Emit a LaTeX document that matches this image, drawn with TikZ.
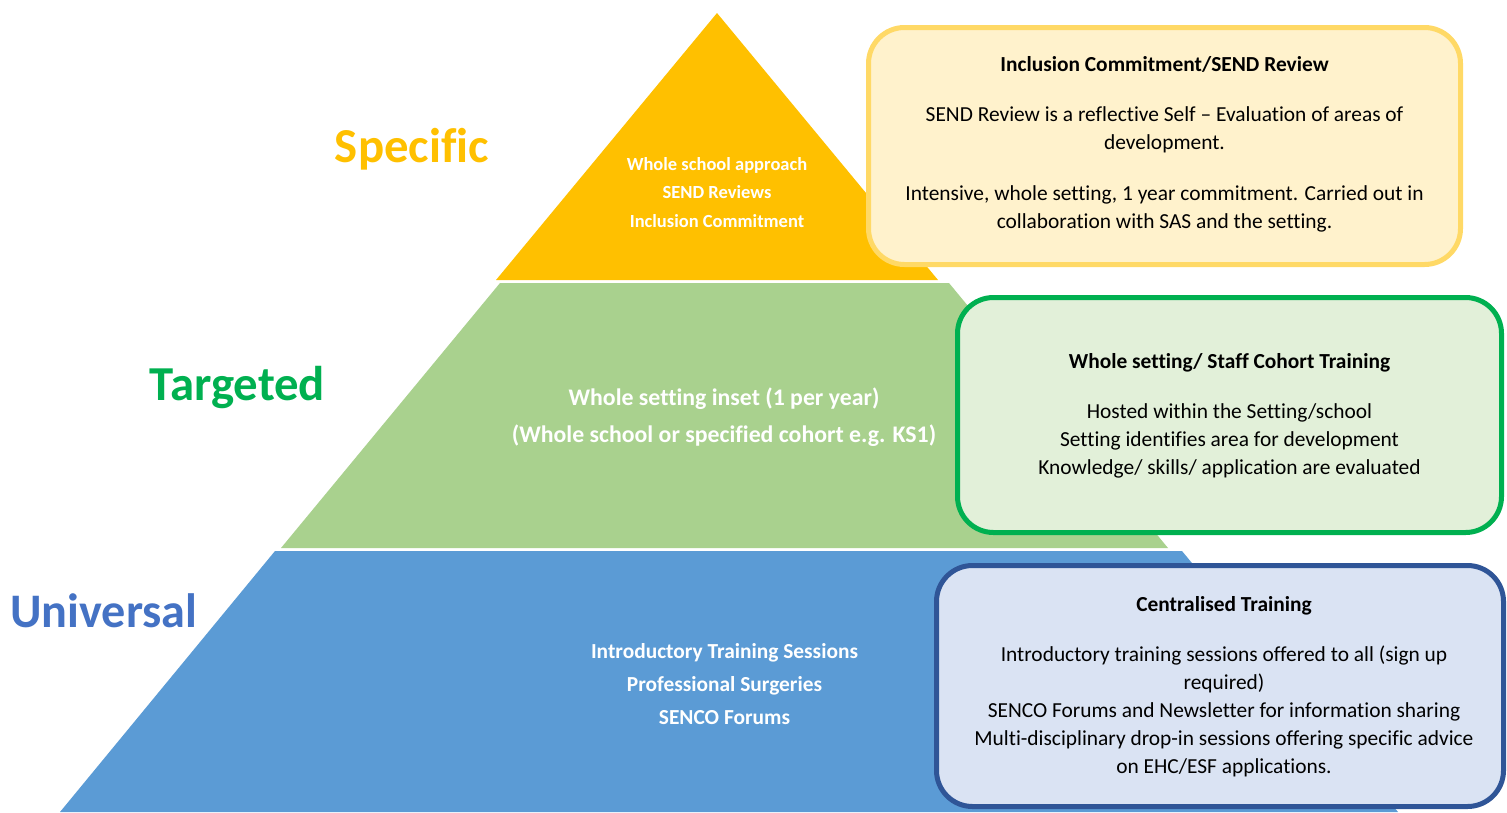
\documentclass[tikz,border=0pt]{standalone}
\usepackage{fontspec}
\setmainfont{Carlito}[Ligatures={NoCommon}]
\definecolor{pyrY}{HTML}{FFC000}
\definecolor{pyrG}{HTML}{A9D18E}
\definecolor{pyrB}{HTML}{5B9BD5}
\definecolor{boxYfill}{HTML}{FFF2CC}
\definecolor{boxYline}{HTML}{FFD966}
\definecolor{boxGfill}{HTML}{E2F0D9}
\definecolor{boxGline}{HTML}{00B050}
\definecolor{boxBfill}{HTML}{DAE3F3}
\definecolor{boxBline}{HTML}{2F5597}
\definecolor{lblY}{HTML}{FFC000}
\definecolor{lblG}{HTML}{00B050}
\definecolor{lblB}{HTML}{4472C4}
\newcommand{\tb}[1]{\begin{tabular}[t]{@{}c@{}}#1\end{tabular}}
\tikzset{
  infobox/.style={line width=5pt, rounded corners=36pt},
  tierlabel/.style={anchor=base, inner sep=0pt, font=\fontsize{48.8}{56}\selectfont\bfseries},
  pyrtext/.style={anchor=base, inner sep=0pt, text=white},
  boxtext/.style={anchor=base, inner sep=0pt, text=black, font=\fontsize{21.4}{28}\selectfont},
}
\begin{document}
\begin{tikzpicture}[x=1pt,y=-1pt]
\useasboundingbox (0,0) rectangle (1507,812);
% pyramid
\fill[pyrY] (717,13) -- (938,280) -- (496,280) -- cycle;
\fill[pyrG] (500,283) -- (949,283) -- (1168,548) -- (281,548) -- cycle;
\fill[pyrB] (275,551) -- (1182,551) -- (1398,812) -- (60,812) -- cycle;
% boxes
\draw[infobox, draw=boxYline, fill=boxYfill] (868.5,27.5) rectangle (1460.5,264.5);
\draw[infobox, draw=boxGline, fill=boxGfill] (957.5,297.5) rectangle (1501.5,532.5);
\draw[infobox, draw=boxBline, fill=boxBfill] (936.5,565.5) rectangle (1503.5,806.5);
% tier labels
\node[tierlabel, text=lblY] (specific) at (412,162) {Specific};
\node[tierlabel, text=lblG] (targeted) at (237.5,400) {Targeted};
\node[tierlabel, text=lblB, font=\fontsize{48.2}{56}\selectfont\bfseries] (universal) at (104,627) {Universal};
% pyramid texts
\node[pyrtext, font=\fontsize{18.5}{28.5}\selectfont\bfseries] (ytext) at (717,170)
  {\tb{Whole school approach\\ SEND Reviews\\ Inclusion Commitment}};
\node[pyrtext, font=\fontsize{23.8}{37}\selectfont\bfseries] (gtext) at (724,405)
  {\tb{Whole setting inset (1 per year)\\ (Whole school or specified cohort e.g. KS1)}};
\node[pyrtext, font=\fontsize{21.4}{33}\selectfont\bfseries] (btext) at (724.5,658)
  {\tb{Introductory Training Sessions\\ Professional Surgeries\\ SENCO Forums}};
% box texts
\node[boxtext] (ybox) at (1164.5,71)
  {\tb{\textbf{Inclusion Commitment/SEND Review}\\[22pt]
  SEND Review is a reflective Self – Evaluation of areas of\\ development.\\[23pt]
  Intensive, whole setting, 1 year commitment. Carried out in\\ collaboration with SAS and the setting.}};
\node[boxtext] (gbox) at (1229.5,368)
  {\tb{\textbf{Whole setting/ Staff Cohort Training}\\[22pt]
  Hosted within the Setting/school\\ Setting identifies area for development\\ Knowledge/ skills/ application are evaluated}};
\node[boxtext] (bbox) at (1224,611)
  {\tb{\textbf{Centralised Training}\\[22pt]
  Introductory training sessions offered to all (sign up\\ required)\\ SENCO Forums and Newsletter for information sharing\\ Multi-disciplinary drop-in sessions offering specific advice\\ on EHC/ESF applications.}};
\end{tikzpicture}
\end{document}
